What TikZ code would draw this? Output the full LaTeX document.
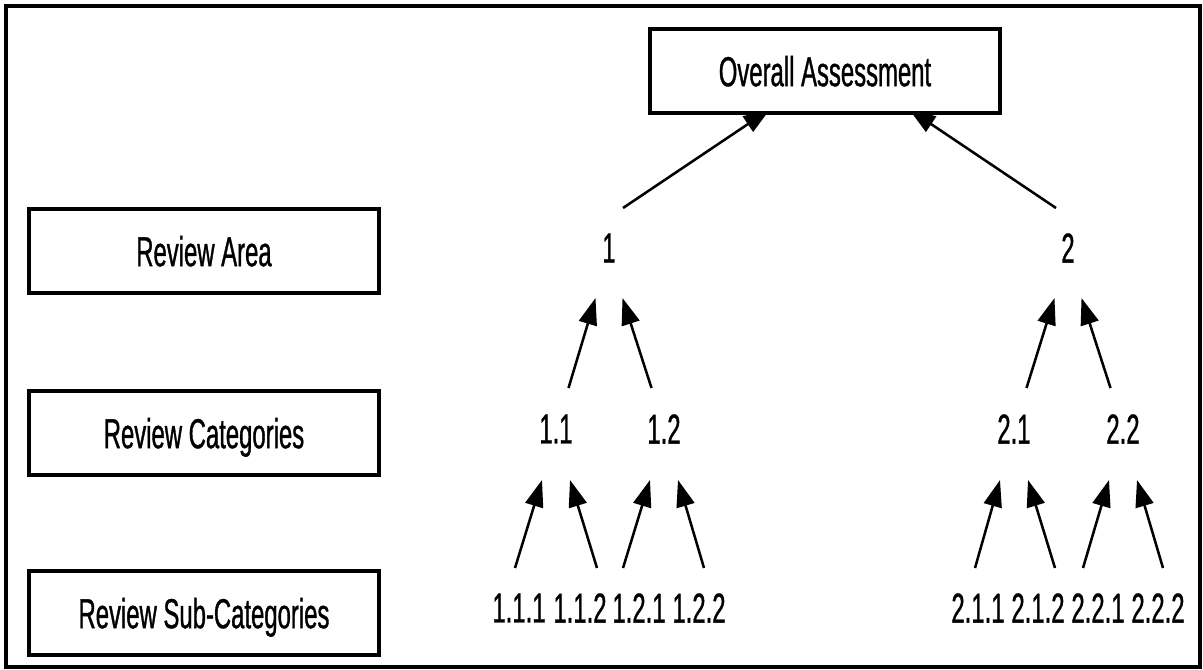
\documentclass[tikz,border=0pt]{standalone}
\usepackage{fontspec}
\setmainfont{Liberation Sans}[FakeStretch=0.57,FakeBold=0.8]
\usetikzlibrary{arrows.meta,calc,backgrounds}

\begin{document}
\begin{tikzpicture}[x=0.025cm, y=-0.025cm,
  every node/.style={font=\fontsize{29.8pt}{34pt}\selectfont, inner sep=0pt, text depth=0pt},
  levelbox/.style={draw, line width=3.2pt, fill=white, minimum width=8.74cm, minimum height=2.1cm},
  arr/.style={line width=1.8pt, -{Triangle[length=19pt,width=13pt]}}]
  \useasboundingbox (0,0) rectangle (1203,670);
  \draw[line width=3pt] (6,6) rectangle (1200,667);
  % level boxes
  \node[levelbox] (oa) at (825,71) {Overall Assessment};
  \node[levelbox] (area) at (204,251) {Review Area};
  \node[levelbox] (cat) at (204,433) {Review Categories};
  \node[levelbox] (sub) at (204,613) {Review Sub-Categories};
  % review areas
  \node (n1) at (609,248) {1};
  \node (n2) at (1068,248) {2};
  % categories
  \node (n11) at (556,429) {1.1};
  \node (n12) at (664,429) {1.2};
  \node (n21) at (1014,429) {2.1};
  \node (n22) at (1123,429) {2.2};
  % sub-categories
  \node (n111) at (519,608) {1.1.1};
  \node (n112) at (580,608) {1.1.2};
  \node (n121) at (639,608) {1.2.1};
  \node (n122) at (699,608) {1.2.2};
  \node (n211) at (978,608) {2.1.1};
  \node (n212) at (1038,608) {2.1.2};
  \node (n221) at (1098,608) {2.2.1};
  \node (n222) at (1158,608) {2.2.2};
  \begin{scope}[on background layer]
    \draw[arr] ($(n1)+(14,-40)$) -- ($(oa.south)+(-55,-6)$);
    \draw[arr] ($(n2)+(-12,-40)$) -- ($(oa.south)+(84,-6)$);
    \foreach \c/\p/\dx/\tx in {n11/n1/12.5/-13.5, n12/n1/-12.5/13.5, n21/n2/12.5/-13.5, n22/n2/-12.5/13.5}
      \draw[arr] ($(\c)+(\dx,-41)$) -- ($(\p)+(\tx,50)$);
    \foreach \c/\p/\dx/\tx in {n111/n11/-4/-14, n112/n11/17/14, n121/n12/-16/-14, n122/n12/5/14,
                               n211/n21/-3/-14, n212/n21/17/14, n221/n22/-15/-14, n222/n22/5/14}
      \draw[arr] ($(\c)+(\dx,-40)$) -- ($(\p)+(\tx,51)$);
  \end{scope}
\end{tikzpicture}
\end{document}
